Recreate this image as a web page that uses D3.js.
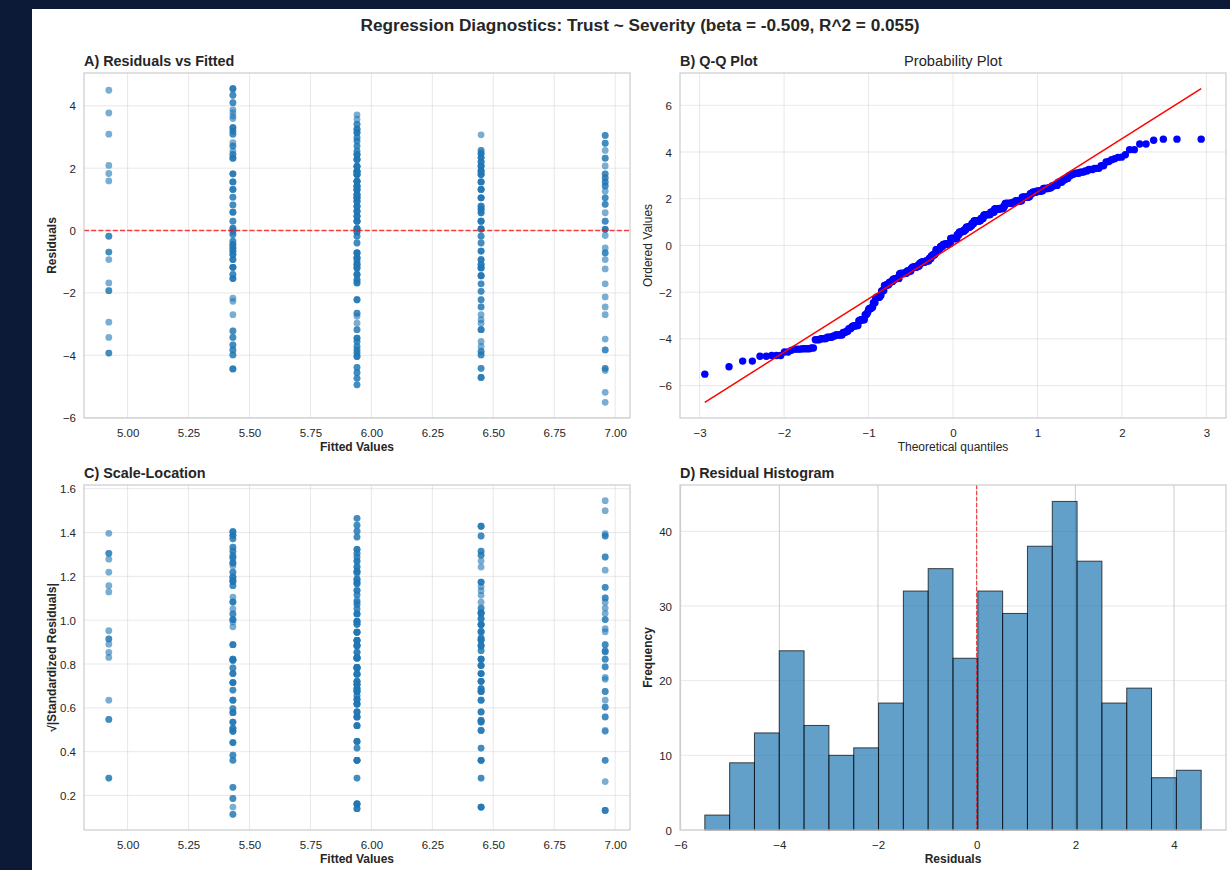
<!DOCTYPE html>
<html>
<head>
<meta charset="utf-8">
<script src="https://cdn.jsdelivr.net/npm/d3@7"></script>
<style>
  html, body { margin: 0; padding: 0; background: #0c1a38; }
  svg { display: block; }
</style>
</head>
<body>
<svg id="chart" width="1230" height="870"></svg>
<script>
// ---------------------------------------------------------------
// Model: Trust ~ Severity (OLS)
// ---------------------------------------------------------------
const BETA = -0.509;
const INTERCEPT = 7.468;
const R2 = 0.055;
const severityLevels = [1, 2, 3, 4, 5];

// Residuals for each severity level as [residual, number of respondents]
const residSev1 = [[-5.51,1],[-5.19,1],[-4.49,1],[-4.42,2],[-3.83,2],[-3.48,1],[-2.70,1],[-2.45,1],
  [-2.13,1],[-1.71,1],[-1.23,1],[-0.93,1],[-0.72,2],[-0.56,1],[-0.16,1],[0.04,3],[0.30,2],[0.57,1],
  [0.84,2],[1.05,2],[1.26,1],[1.43,2],[1.56,2],[1.69,2],[1.82,2],[2.07,1],[2.32,2],[2.57,1],[2.80,2],[3.05,2]];
const residSev2 = [[-4.71,3],[-4.42,2],[-3.99,2],[-3.88,2],[-3.72,1],[-3.56,1],[-3.18,3],[-2.97,1],
  [-2.86,1],[-2.70,1],[-2.45,2],[-2.22,2],[-1.95,2],[-1.71,2],[-1.45,4],[-1.20,4],[-1.09,3],[-0.93,3],
  [-0.66,3],[-0.40,2],[-0.18,2],[0.05,4],[0.30,4],[0.57,3],[0.68,3],[0.78,3],[1.05,4],[1.32,4],[1.56,4],
  [1.80,4],[1.91,4],[2.07,4],[2.21,3],[2.34,3],[2.47,3],[2.57,2],[3.07,1]];
const residSev3 = [[-4.95,2],[-4.74,2],[-4.56,2],[-4.39,2],[-4.04,3],[-3.93,2],[-3.83,2],[-3.72,2],
  [-3.56,2],[-3.45,3],[-3.18,2],[-2.97,1],[-2.75,1],[-2.65,2],[-2.22,3],[-1.68,3],[-1.58,3],[-1.41,4],
  [-1.20,4],[-1.09,4],[-0.99,2],[-0.88,5],[-0.72,5],[-0.40,2],[-0.18,2],[-0.045,3],[0.06,5],[0.30,5],
  [0.46,4],[0.62,4],[0.78,4],[0.94,4],[1.05,5],[1.15,5],[1.31,5],[1.42,5],[1.58,6],[1.80,6],[1.90,6],
  [2.06,5],[2.28,5],[2.44,4],[2.55,2],[2.71,2],[2.87,2],[2.98,2],[3.14,3],[3.25,3],[3.41,2],[3.57,1],[3.71,1]];
const residSev4 = [[-4.44,3],[-3.99,2],[-3.83,2],[-3.67,2],[-3.43,2],[-3.22,2],[-2.70,1],[-2.27,1],
  [-2.17,1],[-1.54,3],[-1.41,2],[-1.18,4],[-0.93,3],[-0.77,3],[-0.66,3],[-0.56,3],[-0.45,3],[-0.34,2],
  [-0.13,2],[-0.03,2],[0.05,1],[0.08,2],[0.30,2],[0.59,3],[0.82,2],[1.07,2],[1.32,3],[1.56,3],[1.82,3],
  [2.32,3],[2.44,2],[2.55,1],[2.71,2],[2.82,1],[3.09,2],[3.19,2],[3.30,3],[3.59,1],[3.67,1],[3.78,1],
  [3.88,1],[4.10,2],[4.34,2],[4.55,3]];
const residSev5 = [[-3.93,2],[-3.43,1],[-2.94,1],[-1.93,2],[-1.68,1],[-0.93,1],[-0.69,2],[-0.18,2],
  [1.59,1],[1.83,1],[2.09,1],[3.09,1],[3.77,1],[4.50,1]];

const residualTables = [residSev1, residSev2, residSev3, residSev4, residSev5];

// Tick values
const fittedTicks = [5.00, 5.25, 5.50, 5.75, 6.00, 6.25, 6.50, 6.75, 7.00];
const residTicks = [-6, -4, -2, 0, 2, 4];
const qqXTicks = [-3, -2, -1, 0, 1, 2, 3];
const qqYTicks = [-6, -4, -2, 0, 2, 4, 6];
const scaleLocTicks = [0.2, 0.4, 0.6, 0.8, 1.0, 1.2, 1.4, 1.6];
const histXTicks = [-6, -4, -2, 0, 2, 4];
const histYTicks = [0, 10, 20, 30, 40];
const HIST_BINS = 20;

// ---------------------------------------------------------------
// Observations
// ---------------------------------------------------------------
const obs = [];
severityLevels.forEach((sev, i) => {
  const fitted = INTERCEPT + BETA * sev;
  residualTables[i].forEach(([r, count]) => {
    for (let k = 0; k < count; k++) obs.push({ severity: sev, fitted, resid: r });
  });
});
const residuals = obs.map(d => d.resid);
const residSD = d3.deviation(residuals);
obs.forEach(d => { d.scaleLoc = Math.sqrt(Math.abs(d.resid / residSD)); });

// Inverse standard normal CDF (Acklam's rational approximation)
function normInv(p) {
  const a = [-3.969683028665376e+01, 2.209460984245205e+02, -2.759285104469687e+02, 1.383577518672690e+02, -3.066479806614716e+01, 2.506628277459239e+00];
  const b = [-5.447609879822406e+01, 1.615858368580409e+02, -1.556989798598866e+02, 6.680131188771972e+01, -1.328068155288572e+01];
  const c = [-7.784894002430293e-03, -3.223964580411365e-01, -2.400758277161838e+00, -2.549732539343734e+00, 4.374664141464968e+00, 2.938163982698783e+00];
  const d = [7.784695709041462e-03, 3.224671290700398e-01, 2.445134137142996e+00, 3.754408661907416e+00];
  const pl = 0.02425, ph = 1 - pl;
  if (p < pl) {
    const q = Math.sqrt(-2 * Math.log(p));
    return (((((c[0]*q+c[1])*q+c[2])*q+c[3])*q+c[4])*q+c[5]) / ((((d[0]*q+d[1])*q+d[2])*q+d[3])*q+1);
  }
  if (p <= ph) {
    const q = p - 0.5, r = q * q;
    return (((((a[0]*r+a[1])*r+a[2])*r+a[3])*r+a[4])*r+a[5])*q / (((((b[0]*r+b[1])*r+b[2])*r+b[3])*r+b[4])*r+1);
  }
  const q = Math.sqrt(-2 * Math.log(1 - p));
  return -(((((c[0]*q+c[1])*q+c[2])*q+c[3])*q+c[4])*q+c[5]) / ((((d[0]*q+d[1])*q+d[2])*q+d[3])*q+1);
}

// Normal probability plot (Filliben order-statistic medians)
const n = residuals.length;
const osr = residuals.slice().sort((a, b) => a - b);
const osm = osr.map((_, i) => {
  const last = Math.pow(0.5, 1 / n);
  let m;
  if (i === n - 1) m = last;
  else if (i === 0) m = 1 - last;
  else m = (i + 1 - 0.3175) / (n + 0.365);
  return normInv(m);
});
const mx = d3.mean(osm), my = d3.mean(osr);
const qqSlope = d3.sum(osm, (x, i) => (x - mx) * (osr[i] - my)) / d3.sum(osm, x => (x - mx) ** 2);
const qqIntercept = my - qqSlope * mx;

// ---------------------------------------------------------------
// Drawing
// ---------------------------------------------------------------
const FONT = "'Liberation Sans', Arial, Helvetica, sans-serif";
const TEXT = "#262626";
const TICK_SIZE = 11.5;
const LABEL_SIZE = 12;
const TITLE_SIZE = 14.4;
const svg = d3.select("#chart");
svg.append("rect").attr("width", 1230).attr("height", 870).attr("fill", "#0c1a38");
svg.append("rect").attr("x", 32).attr("y", 9).attr("width", 1198).attr("height", 861).attr("fill", "#ffffff");

const boxes = {
  A: { x0: 84,  x1: 630,  y0: 73,  y1: 418 },
  B: { x0: 680, x1: 1226, y0: 73,  y1: 418 },
  C: { x0: 84,  x1: 630,  y0: 485, y1: 830 },
  D: { x0: 680, x1: 1226, y0: 485, y1: 830 }
};

function padded(ext, f = 0.05) {
  const s = ext[1] - ext[0];
  return [ext[0] - s * f, ext[1] + s * f];
}

function gridLines(g, box, x, y, xTicks, yTicks, xStyle, yStyle) {
  const inX = xTicks.filter(t => x(t) >= box.x0 - 0.5 && x(t) <= box.x1 + 0.5);
  const inY = yTicks.filter(t => y(t) >= box.y0 - 0.5 && y(t) <= box.y1 + 0.5);
  g.append("g").selectAll("line").data(inX).join("line")
    .attr("x1", d => x(d)).attr("x2", d => x(d)).attr("y1", box.y0).attr("y2", box.y1)
    .attr("stroke", xStyle.color).attr("stroke-opacity", xStyle.opacity).attr("stroke-width", 1);
  g.append("g").selectAll("line").data(inY).join("line")
    .attr("y1", d => y(d)).attr("y2", d => y(d)).attr("x1", box.x0).attr("x2", box.x1)
    .attr("stroke", yStyle.color).attr("stroke-opacity", yStyle.opacity).attr("stroke-width", 1);
}

function axes(g, box, x, y, xTicks, yTicks, xFmt, yFmt) {
  const xAxis = d3.axisBottom(x).tickValues(xTicks).tickFormat(xFmt).tickSize(0).tickPadding(0);
  const gx = g.append("g").attr("transform", `translate(0,${box.y1})`).call(xAxis);
  gx.select(".domain").remove();
  gx.selectAll("text").attr("y", 19).attr("dy", null)
    .attr("font-family", FONT).attr("font-size", TICK_SIZE).attr("fill", TEXT);
  const yAxis = d3.axisLeft(y).tickValues(yTicks).tickFormat(yFmt).tickSize(0).tickPadding(8);
  const gy = g.append("g").attr("transform", `translate(${box.x0},0)`).call(yAxis);
  gy.select(".domain").remove();
  gy.selectAll("text").attr("dy", "0.35em")
    .attr("font-family", FONT).attr("font-size", TICK_SIZE).attr("fill", TEXT);
  // frame
  g.append("rect").attr("x", box.x0).attr("y", box.y0)
    .attr("width", box.x1 - box.x0).attr("height", box.y1 - box.y0)
    .attr("fill", "none").attr("stroke", "#cccccc").attr("stroke-width", 1.2);
}

function labels(g, box, title, xLabel, yLabel, bold) {
  g.append("text").attr("x", box.x0).attr("y", box.y0 - 7)
    .attr("font-family", FONT).attr("font-size", TITLE_SIZE).attr("font-weight", "bold").attr("fill", TEXT)
    .text(title);
  g.append("text").attr("x", (box.x0 + box.x1) / 2).attr("y", box.y1 + 33)
    .attr("text-anchor", "middle").attr("font-family", FONT).attr("font-size", LABEL_SIZE)
    .attr("font-weight", bold ? "bold" : "normal").attr("fill", TEXT).text(xLabel);
  g.append("text")
    .attr("transform", `translate(${box.x0 - 28},${(box.y0 + box.y1) / 2}) rotate(-90)`)
    .attr("text-anchor", "middle").attr("font-family", FONT).attr("font-size", LABEL_SIZE)
    .attr("font-weight", bold ? "bold" : "normal").attr("fill", TEXT).text(yLabel);
}

const lightGrid = { color: "#cccccc", opacity: 0.45 };
const fullGrid = { color: "#cccccc", opacity: 1 };
const fmtInt = d3.format("d");

// Suptitle
svg.append("text").attr("x", 640).attr("y", 30.5).attr("text-anchor", "middle")
  .attr("font-family", FONT).attr("font-size", 17.2).attr("font-weight", "bold").attr("fill", TEXT)
  .text(`Regression Diagnostics: Trust ~ Severity (beta = ${BETA.toFixed(3)}, R^2 = ${R2.toFixed(3)})`);

// ---- A) Residuals vs Fitted ----
{
  const box = boxes.A, g = svg.append("g");
  const x = d3.scaleLinear(padded(d3.extent(obs, d => d.fitted)), [box.x0, box.x1]);
  const y = d3.scaleLinear(padded(d3.extent(obs, d => d.resid)), [box.y1, box.y0]);
  gridLines(g, box, x, y, fittedTicks, residTicks, lightGrid, lightGrid);
  g.append("g").selectAll("circle").data(obs).join("circle")
    .attr("cx", d => x(d.fitted)).attr("cy", d => y(d.resid)).attr("r", 3.4)
    .attr("fill", "#1f77b4").attr("fill-opacity", 0.6);
  g.append("line").attr("x1", box.x0).attr("x2", box.x1).attr("y1", y(0)).attr("y2", y(0))
    .attr("stroke", "red").attr("stroke-opacity", 0.75).attr("stroke-width", 1.4)
    .attr("stroke-dasharray", "5,2.2");
  axes(g, box, x, y, fittedTicks, residTicks, d3.format(".2f"), fmtInt);
  labels(g, box, "A) Residuals vs Fitted", "Fitted Values", "Residuals", true);
}

// ---- B) Q-Q Plot ----
{
  const box = boxes.B, g = svg.append("g");
  const lineX = [osm[0], osm[n - 1]];
  const lineY = lineX.map(v => qqIntercept + qqSlope * v);
  const x = d3.scaleLinear(padded(d3.extent(osm)), [box.x0, box.x1]);
  const y = d3.scaleLinear(padded(d3.extent(osr.concat(lineY))), [box.y1, box.y0]);
  gridLines(g, box, x, y, qqXTicks, qqYTicks, lightGrid, lightGrid);
  g.append("g").selectAll("circle").data(osr).join("circle")
    .attr("cx", (d, i) => x(osm[i])).attr("cy", d => y(d)).attr("r", 3.7).attr("fill", "#0000ff");
  g.append("line").attr("x1", x(lineX[0])).attr("x2", x(lineX[1]))
    .attr("y1", y(lineY[0])).attr("y2", y(lineY[1]))
    .attr("stroke", "#ff0000").attr("stroke-width", 1.5);
  axes(g, box, x, y, qqXTicks, qqYTicks, fmtInt, fmtInt);
  labels(g, box, "B) Q-Q Plot", "Theoretical quantiles", "Ordered Values", false);
  g.append("text").attr("x", (box.x0 + box.x1) / 2).attr("y", box.y0 - 7).attr("text-anchor", "middle")
    .attr("font-family", FONT).attr("font-size", 14.7).attr("fill", TEXT).text("Probability Plot");
}

// ---- C) Scale-Location ----
{
  const box = boxes.C, g = svg.append("g");
  const x = d3.scaleLinear(padded(d3.extent(obs, d => d.fitted)), [box.x0, box.x1]);
  const y = d3.scaleLinear(padded(d3.extent(obs, d => d.scaleLoc)), [box.y1, box.y0]);
  gridLines(g, box, x, y, fittedTicks, scaleLocTicks, lightGrid, lightGrid);
  g.append("g").selectAll("circle").data(obs).join("circle")
    .attr("cx", d => x(d.fitted)).attr("cy", d => y(d.scaleLoc)).attr("r", 3.4)
    .attr("fill", "#1f77b4").attr("fill-opacity", 0.6);
  axes(g, box, x, y, fittedTicks, scaleLocTicks, d3.format(".2f"), d3.format(".1f"));
  labels(g, box, "C) Scale-Location", "Fitted Values", "\u221A|Standardized Residuals|", true);
}

// ---- D) Residual Histogram ----
{
  const box = boxes.D, g = svg.append("g");
  const [lo, hi] = d3.extent(residuals);
  const w = (hi - lo) / HIST_BINS;
  const bins = d3.bin().domain([lo, hi])
    .thresholds(d3.range(1, HIST_BINS).map(i => lo + i * w))(residuals);
  const x = d3.scaleLinear(padded([lo, hi]), [box.x0, box.x1]);
  const y = d3.scaleLinear([0, d3.max(bins, b => b.length) * 1.05], [box.y1, box.y0]);
  gridLines(g, box, x, y, histXTicks, histYTicks, fullGrid, lightGrid);
  g.append("g").selectAll("rect").data(bins).join("rect")
    .attr("x", b => x(b.x0)).attr("width", b => x(b.x1) - x(b.x0))
    .attr("y", b => y(b.length)).attr("height", b => y(0) - y(b.length))
    .attr("fill", "#1f77b4").attr("fill-opacity", 0.7)
    .attr("stroke", "#000").attr("stroke-opacity", 0.7).attr("stroke-width", 1);
  g.append("line").attr("x1", x(0)).attr("x2", x(0)).attr("y1", box.y0).attr("y2", box.y1)
    .attr("stroke", "red").attr("stroke-opacity", 0.8).attr("stroke-width", 1)
    .attr("stroke-dasharray", "4,2");
  axes(g, box, x, y, histXTicks, histYTicks, fmtInt, fmtInt);
  labels(g, box, "D) Residual Histogram", "Residuals", "Frequency", true);
}
</script>
</body>
</html>
